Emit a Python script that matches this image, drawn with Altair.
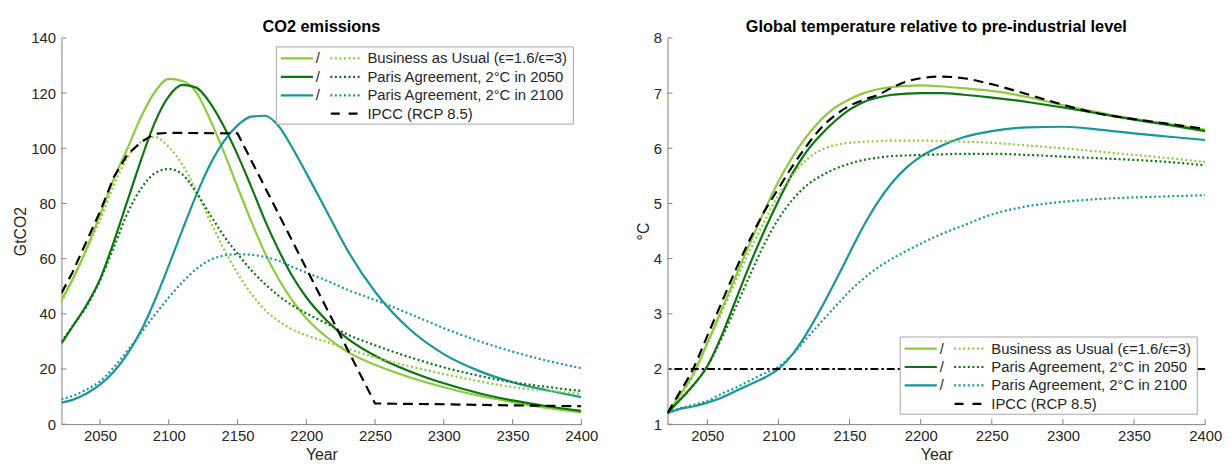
import altair as alt
import pandas as pd

# ---------------- data ----------------
years = [2022, 2030, 2040, 2050, 2060, 2070, 2080, 2090, 2100, 2110, 2120, 2130, 2140,
         2150, 2160, 2170, 2180, 2190, 2200, 2215, 2230, 2250, 2275, 2300, 2325, 2350,
         2375, 2400]

# CO2 emissions (GtCO2)
co2_bau_e16 = [45, 52.4, 63.3, 75.8, 88.8, 100, 111.5, 120.5, 125.2, 124.4, 120.3, 110.5,
               98.8, 86, 73.5, 62, 52.5, 44.7, 38.4, 31.5, 26.2, 21.5, 17, 13.4, 10.4, 8,
               5.9, 4.3]
co2_bau_e3 = [44.3, 52, 63, 74, 86.5, 96.7, 102.3, 104.1, 100.5, 94, 84.6, 73.8, 63.6,
              54.7, 47.3, 41.4, 37.3, 34.3, 32.2, 29.8, 27.4, 24.2, 21, 18.2, 15.6, 13.4,
              12.1, 11]
co2_pa2050_e16 = [29.3, 35.3, 43, 52.5, 66, 81, 96, 109.5, 118.8, 123, 122, 116.5,
                  108, 97.7, 86, 73.8, 63, 53.5, 46, 37.5, 31, 24.8, 19.2, 14.8, 11.3, 8.6,
                  6.5, 4.8]
co2_pa2050_e3 = [29.9, 35.5, 42.5, 52, 64, 76.5, 85.5, 91, 92.5, 90.5, 84, 76, 68.3, 61.8,
                 55.8, 50.8, 46.5, 43, 40.2, 36.4, 32.5, 28.6, 24.3, 20.6, 17.6, 15.2,
                 13.5, 12]
co2_pa2100_e16 = [7.8, 8.8, 11, 14.3, 19, 25.5, 34, 45, 57.5, 70.5, 83, 94, 102.5, 108.3,
                  111.5, 111.8, 108, 100, 91, 77, 63, 48, 34.5, 25.4, 19.4, 15.2, 12.3,
                  9.8]
co2_pa2100_e3 = [9, 10.2, 12.5, 15.5, 20.5, 26.6, 33.2, 39.7, 45.9, 51.5, 56.2, 59.5, 61.1,
                 61.6, 61.4, 60.6, 59.2, 57, 54.9, 52, 48.7, 45, 40, 34.8, 30.2, 26.3, 23,
                 20.3]
ipcc_co2_years = [2022, 2030, 2040, 2050, 2060, 2070, 2080, 2090, 2100, 2150, 2250, 2300,
                  2350, 2400]
ipcc_co2 = [47.5, 55, 66, 77, 89.5, 97.8, 102.3, 105.3, 105.6, 105.4, 7.5, 7.2, 6.8, 6.5]

# Global temperature (deg C above pre-industrial)
t_bau_e16 = [1.2, 1.5, 1.9, 2.47, 3.07, 3.68, 4.28, 4.86, 5.4, 5.85, 6.22, 6.52, 6.74,
             6.89, 7.0, 7.07, 7.11, 7.13, 7.14, 7.12, 7.09, 7.04, 6.93, 6.78, 6.65, 6.53,
             6.44, 6.34]
t_bau_e3 = [1.2, 1.48, 1.88, 2.45, 3.02, 3.6, 4.15, 4.67, 5.15, 5.52, 5.8, 5.97, 6.06,
            6.1, 6.12, 6.13, 6.14, 6.14, 6.14, 6.13, 6.12, 6.1, 6.05, 6.0, 5.94, 5.88,
            5.82, 5.75]
t_pa2050_e16 = [1.2, 1.42, 1.7, 2.05, 2.6, 3.25, 3.9, 4.5, 5.05, 5.55, 5.95, 6.25, 6.5,
                6.7, 6.84, 6.92, 6.97, 6.99, 7.0, 7.0, 6.97, 6.92, 6.84, 6.74, 6.63, 6.52,
                6.42, 6.31]
t_pa2050_e3 = [1.2, 1.42, 1.7, 2.05, 2.55, 3.12, 3.7, 4.26, 4.72, 5.07, 5.33, 5.5, 5.63,
               5.72, 5.79, 5.83, 5.86, 5.87, 5.88, 5.89, 5.9, 5.9, 5.88, 5.85, 5.82, 5.79,
               5.75, 5.69]
t_pa2100_e16 = [1.2, 1.27, 1.32, 1.39, 1.48, 1.6, 1.72, 1.84, 2.0, 2.27, 2.65, 3.1, 3.59,
                4.1, 4.6, 5.03, 5.38, 5.65, 5.85, 6.05, 6.2, 6.31, 6.38, 6.39, 6.34, 6.27,
                6.21, 6.15]
t_pa2100_e3 = [1.2, 1.28, 1.35, 1.42, 1.55, 1.66, 1.79, 1.92, 2.04, 2.27, 2.56, 2.85, 3.13,
               3.41, 3.64, 3.84, 4.0, 4.14, 4.27, 4.45, 4.6, 4.8, 4.95, 5.03, 5.08, 5.11,
               5.13, 5.15]
t_ipcc = [1.2, 1.55, 2.0, 2.6, 3.2, 3.8, 4.35, 4.85, 5.27, 5.68, 6.05, 6.37, 6.6, 6.77,
          6.88, 6.97, 7.1, 7.21, 7.27, 7.3, 7.27, 7.16, 6.98, 6.79, 6.63, 6.53, 6.44, 6.35]
target_temp = [2]

scenarios = ["Business as Usual (ϵ=1.6/ϵ=3)",
             "Paris Agreement, 2°C in 2050",
             "Paris Agreement, 2°C in 2100"]
ipcc_label = "IPCC (RCP 8.5)"
x_ticks = [2050, 2100, 2150, 2200, 2250, 2300, 2350, 2400]
co2_ticks = [0, 20, 40, 60, 80, 100, 120, 140]
temp_ticks = [1, 2, 3, 4, 5, 6, 7, 8]

# ---------------- styles ----------------
FONT = "Liberation Sans"
COLORS = ["#8CCB3C", "#0A760E", "#16979A"]
AXIS_GRAY = "#7f7f7f"
TEXT = "#262626"
DOT = [2, 2.6]
DASH = [10, 6]
LW = 2.2


def long_frame(series):
    rows = []
    for name, vals in zip(scenarios, series):
        for yr, v in zip(years, vals):
            rows.append({"year": yr, "value": v, "scenario": name})
    return pd.DataFrame(rows)


def panel(solid, dotted, ipcc_years, ipcc_vals, y_title, y_domain, y_ticks, width,
          height, title, legend_bottom, ref=None):
    xs = alt.X("year:Q", scale=alt.Scale(domain=[2022, 2400], nice=False, zero=False),
               axis=alt.Axis(values=x_ticks, format="d", title="Year", labelPadding=5,
                             titlePadding=3))
    ys = alt.Y("value:Q", scale=alt.Scale(domain=y_domain, nice=False, zero=False),
               axis=alt.Axis(values=y_ticks, format="d", title=y_title))
    col = alt.Color("scenario:N", scale=alt.Scale(domain=scenarios, range=COLORS),
                    legend=None)
    layers = [
        alt.Chart(long_frame(solid))
        .mark_line(strokeWidth=LW, interpolate="monotone", clip=True)
        .encode(x=xs, y=ys, color=col, detail="scenario:N"),
        alt.Chart(long_frame(dotted))
        .mark_line(strokeWidth=LW, interpolate="monotone", strokeDash=DOT, clip=True)
        .encode(x=xs, y=ys, color=col, detail="scenario:N"),
    ]
    ipcc_df = pd.DataFrame({"year": ipcc_years, "value": ipcc_vals})
    interp = "linear" if ref is None else "monotone"
    layers.append(alt.Chart(ipcc_df).mark_line(strokeWidth=LW, color="black",
                                               strokeDash=DASH, interpolate=interp,
                                               clip=True)
                  .encode(x=xs, y=ys))
    if ref is not None:
        layers.append(alt.Chart(pd.DataFrame({"value": ref}))
                      .mark_rule(color="black", strokeWidth=2, strokeDash=[8, 3, 2.5, 3])
                      .encode(y=ys))
    # inward ticks (MATLAB style)
    layers.append(alt.Chart(pd.DataFrame({"year": x_ticks})).mark_rule(color=AXIS_GRAY)
                  .encode(x=xs, y=alt.value(height), y2=alt.value(height - 5)))
    layers.append(alt.Chart(pd.DataFrame({"value": y_ticks})).mark_rule(color=AXIS_GRAY)
                  .encode(y=ys, x=alt.value(0), x2=alt.value(5)))

    # legend box
    lw, lh = 300, 78
    bx = width - 8 - lw
    by = height - 10 - lh if legend_bottom else 9
    one = pd.DataFrame({"k": [0]})
    layers.append(alt.Chart(one).mark_rect(fill="white", stroke="#a6a6a6", strokeWidth=1)
                  .encode(x=alt.value(bx), x2=alt.value(bx + lw), y=alt.value(by),
                          y2=alt.value(by + lh)))
    for i, label in enumerate(scenarios + [ipcc_label]):
        ry = by + 11.7 + i * 18.6
        lab = pd.DataFrame({"label": [label], "slash": ["/"]})
        if i < 3:
            c = COLORS[i]
            layers.append(alt.Chart(lab).mark_rule(color=c, strokeWidth=LW)
                          .encode(x=alt.value(bx + 4.5), x2=alt.value(bx + 37),
                                  y=alt.value(ry)))
            layers.append(alt.Chart(lab).mark_text(font=FONT, fontSize=15, color=TEXT,
                                                   align="center", baseline="middle")
                          .encode(x=alt.value(bx + 42), y=alt.value(ry), text="slash:N"))
            layers.append(alt.Chart(lab).mark_rule(color=c, strokeWidth=LW,
                                                   strokeDash=DOT)
                          .encode(x=alt.value(bx + 54.5), x2=alt.value(bx + 85.5),
                                  y=alt.value(ry)))
        else:
            layers.append(alt.Chart(lab).mark_rule(color="black", strokeWidth=LW,
                                                   strokeDash=[9, 9])
                          .encode(x=alt.value(bx + 55), x2=alt.value(bx + 82),
                                  y=alt.value(ry)))
        layers.append(alt.Chart(lab).mark_text(font=FONT, fontSize=15, color=TEXT,
                                               align="left", baseline="middle")
                      .encode(x=alt.value(bx + 92), y=alt.value(ry), text="label:N"))

    return alt.layer(*layers).properties(
        width=width, height=height,
        title=alt.TitleParams(title, font=FONT, fontSize=16.5, fontWeight="bold",
                              color="black", anchor="middle", offset=-4))


left = panel([co2_bau_e16, co2_pa2050_e16, co2_pa2100_e16],
             [co2_bau_e3, co2_pa2050_e3, co2_pa2100_e3],
             ipcc_co2_years, ipcc_co2, "GtCO2", [0, 140], co2_ticks, 525, 390,
             "CO2 emissions", legend_bottom=False)
right = panel([t_bau_e16, t_pa2050_e16, t_pa2100_e16],
              [t_bau_e3, t_pa2050_e3, t_pa2100_e3],
              years, t_ipcc, "°C", [1, 8], temp_ticks, 543, 390,
              "Global temperature relative to pre-industrial level", legend_bottom=True,
              ref=target_temp)

chart = alt.hconcat(left, right, spacing=37).properties(
    padding={"left": 4, "top": 8, "right": 0, "bottom": 0}
).configure_view(stroke=None).configure_axis(
    domainColor=AXIS_GRAY, domainWidth=1, ticks=False, grid=False,
    labelFont=FONT, labelFontSize=15, labelColor=TEXT, labelPadding=6,
    labelFlush=False, labelOverlap=False,
    titleFont=FONT, titleFontSize=16, titleFontWeight="normal", titleColor=TEXT,
    titlePadding=2
)

chart.save("out.html", embed_options={"renderer": "svg", "actions": False})
